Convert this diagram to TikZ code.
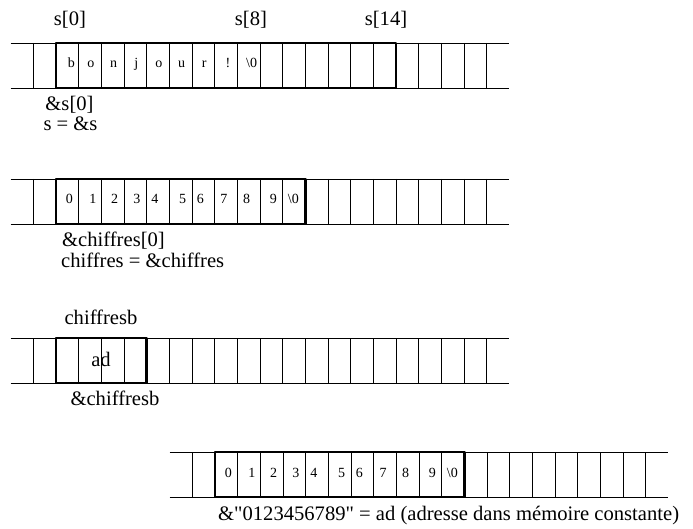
\documentclass[tikz,border=0pt]{standalone}
\usepackage{fontspec}
\setmainfont{Liberation Serif}[Ligatures=TeXOff]
\begin{document}
\begin{tikzpicture}[x=1pt, y=-1pt, line join=round, line cap=butt,
		font=\fontsize{20.6}{24}\selectfont,
		lbl/.style={inner sep=0pt, anchor=base},
		cell/.style={inner sep=0pt, anchor=base, font=\fontsize{14}{16}\selectfont}]
			\def\w{22.67}
			\def\h{45}
			\useasboundingbox (0,0) rectangle (693,529);
			\foreach \x/\y/\n [count=\r] in {33.3/43/15, 33.3/179/11, 33.3/338/4, 192.3/452/11} {
				\draw[line width=.8pt]
				(\x-\w,\y) -- ++(22*\w,0) (\x-\w,\y+\h) -- ++(22*\w,0)
				;
				\foreach \k in {0,...,20} \draw[line width=.8pt] (\x+\k*\w,\y) -- ++(0,\h);
				\draw[line width=2.7pt] (\x+\w,\y) rectangle ++(\n*\w,\h);
			}
			\foreach \c/\dx [count=\i from 0] in {b/4,o/1,n/1,j/1,o/1,u/1,r/1,!/2,{\textbackslash0}/3}
				\node[cell] (s\i) at (33.3+1.5*\w+\i*\w+\dx,43+25) {\c};
			\foreach \c/\dx [count=\i from 0] in {0/2,1/3,2/2,3/1.5,4/-3,5/2,6/-3,7/-2,8/-2,9/2,{\textbackslash0}/-.7} {
				\node[cell] (c\i) at (33.3+1.5*\w+\i*\w+\dx,179+25) {\c};
				\node[cell] (k\i) at (192.3+1.5*\w+\i*\w+\dx,452+25) {\c};
			}
			\node[lbl] (s0lbl) at (70,26) {s[0]};
			\node[lbl] (s8lbl) at (251,26) {s[8]};
			\node[lbl] (s14lbl) at (386,26) {s[14]};
			\node[lbl] (adrs) at (69.5,111) {\&s[0]};
			\node[lbl] (ptrs) at (70.5,130.5) {s = \&s};
			\node[lbl, anchor=base west] (adrchiffres) at (62,247) {\&chiffres[0]};
			\node[lbl, anchor=base west] (ptrchiffres) at (61,268) {chiffres = \&chiffres};
			\node[lbl] (chiffresb) at (101,324) {chiffresb};
			\node[lbl] (ad) at (101,366) {ad};
			\node[lbl] (adrchiffresb) at (115,405.7) {\&chiffresb};
			\node[lbl, anchor=base west] (cst) at (218,520) {\&"0123456789" = ad (adresse dans mémoire constante)};
\end{tikzpicture}
\end{document}
